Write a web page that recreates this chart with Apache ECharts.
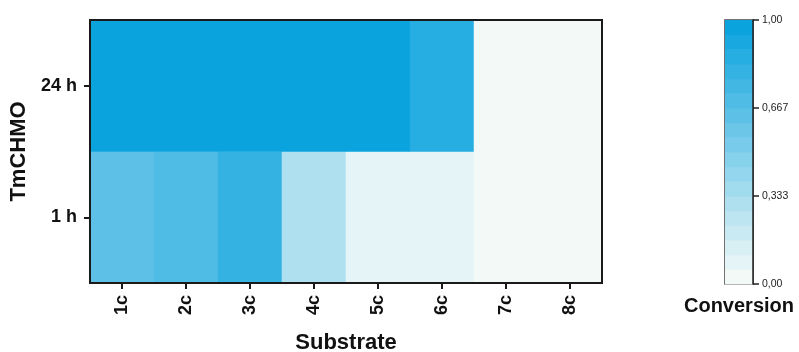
<!DOCTYPE html>
<html>
<head>
<meta charset="utf-8">
<script src="https://cdn.jsdelivr.net/npm/echarts@6/dist/echarts.min.js"></script>
<style>
  html, body { margin: 0; padding: 0; background: #fff; }
  #chart { width: 799px; height: 352px; }
</style>
</head>
<body>
<div id="chart"></div>
<script>
// Conversion of substrates by TmCHMO after 1 h and 24 h
const substrates = ['1c', '2c', '3c', '4c', '5c', '6c', '7c', '8c'];
const times = ['1 h', '24 h'];
const conv1h  = [0.64, 0.69, 0.80, 0.30, 0.08, 0.08, 0.00, 0.00];
const conv24h = [1.00, 1.00, 1.00, 1.00, 1.00, 0.86, 0.00, 0.00];

// Stepped colour scale: 18 bands from near-white to blue
const stepCount = 18;
const lowColor = [243, 249, 247];
const highColor = [11, 163, 222];

function mix(t) {
  const c = lowColor.map((l, i) => Math.round(l + (highColor[i] - l) * t));
  return 'rgb(' + c.join(',') + ')';
}

const pieces = [];
const bandData = [];
for (let i = 0; i < stepCount; i++) {
  const lo = i / stepCount, hi = (i + 1) / stepCount;
  const p = { gte: lo, color: mix(i / (stepCount - 1)) };
  if (i === stepCount - 1) p.lte = hi + 1e-9; else p.lt = hi;
  pieces.push(p);
  bandData.push([lo, hi, (lo + hi) / 2]);
}

const cells = [];
conv1h.forEach((v, i) => cells.push([i, 0, v]));
conv24h.forEach((v, i) => cells.push([i, 1, v]));

const font = 'Arial, "Liberation Sans", Helvetica, sans-serif';
const fmtTick = v => {
  const s = Math.abs(v - Math.round(v)) < 1e-6 ? v.toFixed(2) : v.toFixed(3);
  return s.replace('.', ',');
};

const chart = echarts.init(document.getElementById('chart'), null, { renderer: 'canvas' });
chart.setOption({
  animation: false,
  backgroundColor: '#fff',
  textStyle: { fontFamily: font },
  grid: [
    { left: 90, top: 20, width: 512, height: 263, show: true, borderColor: '#1a1a1a', borderWidth: 2, z: 10,
      backgroundColor: 'transparent', containLabel: false, outerBoundsMode: 'none' },
    { left: 725, top: 20, width: 28, height: 264, show: true, borderColor: '#444', borderWidth: 1.5,
      backgroundColor: 'transparent', containLabel: false, outerBoundsMode: 'none' }
  ],
  xAxis: [
    {
      type: 'category', gridIndex: 0, data: substrates, z: 10,
      axisLine: { show: true, lineStyle: { color: '#1a1a1a', width: 2 } },
      axisTick: { show: true, alignWithLabel: true, length: 6, lineStyle: { color: '#1a1a1a', width: 2 } },
      axisLabel: { rotate: 90, fontSize: 18, fontWeight: 'bold', color: '#111', margin: 12, fontFamily: font },
      splitLine: { show: false },
      name: 'Substrate', nameLocation: 'middle', nameGap: 49,
      nameTextStyle: { fontSize: 22, fontWeight: 'bold', color: '#111', fontFamily: font }
    },
    { type: 'value', gridIndex: 1, min: 0, max: 1, show: false }
  ],
  yAxis: [
    {
      type: 'category', gridIndex: 0, data: times, z: 10,
      axisLine: { show: true, lineStyle: { color: '#1a1a1a', width: 2 } },
      axisTick: { show: true, alignWithLabel: true, length: 6, lineStyle: { color: '#1a1a1a', width: 2 } },
      axisLabel: { fontSize: 18, fontWeight: 'bold', color: '#111', margin: 13, fontFamily: font },
      splitLine: { show: false },
      name: 'TmCHMO', nameLocation: 'middle', nameGap: 52, nameRotate: 90,
      nameTextStyle: { fontSize: 22, fontWeight: 'bold', color: '#111', fontFamily: font }
    },
    {
      type: 'value', gridIndex: 1, min: 0, max: 1, interval: 1 / 3, position: 'right', z: 10,
      axisLine: { show: true, onZero: false, lineStyle: { color: '#222', width: 1.5 } },
      axisTick: { show: true, inside: false, length: 6, lineStyle: { color: '#222', width: 1.5 } },
      axisLabel: { fontSize: 10.5, color: '#222', margin: 9, formatter: fmtTick, fontFamily: font },
      splitLine: { show: false },
      name: 'Conversion', nameLocation: 'start', nameGap: 12,
      nameTextStyle: { fontSize: 20, fontWeight: 'bold', color: '#111', align: 'center', padding: [0, 28, 0, 0], fontFamily: font }
    }
  ],
  visualMap: {
    type: 'piecewise', show: false, dimension: 2, seriesIndex: [0, 1], pieces: pieces
  },
  series: [
    {
      type: 'heatmap', xAxisIndex: 0, yAxisIndex: 0, data: cells,
      itemStyle: { borderWidth: 0 }, emphasis: { disabled: true }
    },
    {
      type: 'custom', xAxisIndex: 1, yAxisIndex: 1, data: bandData,
      renderItem: (params, api) => {
        const a = api.coord([0, api.value(1)]);
        const b = api.coord([1, api.value(0)]);
        return {
          type: 'rect',
          shape: { x: a[0], y: a[1], width: b[0] - a[0], height: b[1] - a[1] + 0.5 },
          style: { fill: api.visual('color') }
        };
      }
    }
  ]
});
</script>
</body>
</html>
